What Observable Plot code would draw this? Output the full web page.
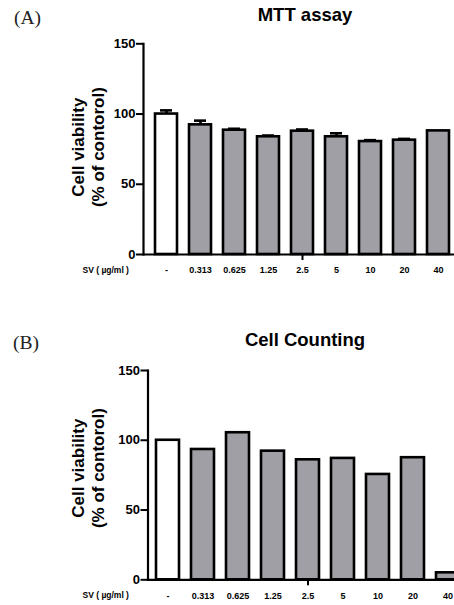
<!DOCTYPE html>
<html><head><meta charset="utf-8">
<script src="https://cdn.jsdelivr.net/npm/d3@7"></script>
<script src="https://cdn.jsdelivr.net/npm/@observablehq/plot@0.6"></script>
<style>
html,body{margin:0;padding:0;background:#fff;overflow:hidden;}
#page{position:relative;width:454px;height:605px;overflow:hidden;background:#fff;}
.panel{position:absolute;left:0;max-width:none !important;}
.letter{position:absolute;font-family:"Liberation Serif","DejaVu Serif",serif;font-size:19.5px;line-height:19.5px;color:#222;white-space:nowrap;}
.title{position:absolute;font-family:"Liberation Sans",Arial,sans-serif;font-weight:bold;font-size:18.5px;line-height:18.5px;color:#000;transform:translateX(-50%);white-space:nowrap;}
</style></head>
<body><div id="page">
<div class="letter" style="left:14px;top:8px">(A)</div>
<div class="title" style="left:305px;top:6px">MTT assay</div>
<div class="letter" style="left:13px;top:333px">(B)</div>
<div class="title" style="left:305px;top:331px">Cell Counting</div>
</div>
<script>
// ---- data ----
const categories = ["-", "0.313", "0.625", "1.25", "2.5", "5", "10", "20", "40"];
const mttMean = [100, 92.3, 88.5, 83.8, 87.8, 83.8, 80.4, 81.4, 88];
const mttErr  = [2.6, 3.0, 1.0, 0.9, 1.2, 2.5, 1.0, 0.9, 0];
const countMean = [100, 93.4, 105.4, 92.2, 86, 87, 75.5, 87.5, 5];
const yTicks = [0, 50, 100, 150];
const xAxisTitle = "SV ( µg/ml )";
const yAxisTitle = "Cell viability\n(% of contorol)";

const gray = "#a09fa6";
const font = "'Liberation Sans', Arial, sans-serif";

function makePanel({means, errs, width, height, marginLeft, marginRight, marginTop, marginBottom, titleDx, titleDy}) {
  const data = categories.map((c, i) => ({cat: c, v: means[i], e: errs ? errs[i] : 0}));
  const ctrl = data.filter(d => d.cat === "-");
  const treated = data.filter(d => d.cat !== "-");
  const withErr = data.filter(d => d.e > 0);
  const marks = [
    Plot.barY(ctrl, {x: "cat", y: "v", fill: "white", stroke: "black", strokeWidth: 2.6}),
    Plot.barY(treated, {x: "cat", y: "v", fill: gray, stroke: "black", strokeWidth: 2.6}),
  ];
  if (errs) {
    marks.push(
      Plot.ruleX(withErr, {x: "cat", y1: "v", y2: d => d.v + d.e, stroke: "black", strokeWidth: 2.6}),
      Plot.tickY(withErr, {x: "cat", y: d => d.v + d.e, inset: 5, stroke: "black", strokeWidth: 2.6})
    );
  }
  marks.push(
    Plot.ruleY([0], {stroke: "black", strokeWidth: 2.2}),
    Plot.frame({anchor: "left", stroke: "black", strokeWidth: 2.2}),
    Plot.axisY({ticks: yTicks, tickSize: 7, tickPadding: 1, strokeWidth: 2, fontSize: 13, fontWeight: "bold", label: null}),
    Plot.axisX({ticks: ["2.5"], tickSize: 6, tickFormat: () => "", strokeWidth: 2, label: null}),
    Plot.axisX({tickSize: 0, tickPadding: 12.5, fontSize: 9, fontWeight: "bold", label: null}),
    Plot.text([xAxisTitle], {frameAnchor: "bottom-left", textAnchor: "start", lineAnchor: "middle", dx: 82 - marginLeft, dy: 15.7, fontSize: 8.5, fontWeight: "bold"}),
    Plot.text([yAxisTitle], {frameAnchor: "left", textAnchor: "middle", rotate: -90, lineAnchor: "middle", lineHeight: 1.18, dx: titleDx, dy: titleDy, fontSize: 17, fontWeight: "bold"})
  );
  const svg = Plot.plot({
    width, height, marginLeft, marginRight, marginTop, marginBottom,
    style: {fontFamily: font, color: "black", background: "transparent", overflow: "visible"},
    x: {domain: categories, paddingInner: 0.357, paddingOuter: 0.236},
    y: {domain: [0, 150]},
    marks
  });
  svg.style.maxWidth = "none";
  svg.style.width = width + "px";
  svg.style.height = height + "px";
  return svg;
}

const page = document.getElementById("page");
const a = makePanel({means: mttMean, errs: mttErr, width: 470, height: 290, marginLeft: 143, marginRight: 9, marginTop: 43.3, marginBottom: 36, titleDx: -56, titleDy: -2});
a.classList.add("panel"); a.style.top = "0px";
page.appendChild(a);
const b = makePanel({means: countMean, errs: null, width: 475, height: 295, marginLeft: 147.5, marginRight: 7.5, marginTop: 60, marginBottom: 25.7, titleDx: -60.5, titleDy: -7});
b.classList.add("panel"); b.style.top = "310px";
page.appendChild(b);
</script>
</body></html>
